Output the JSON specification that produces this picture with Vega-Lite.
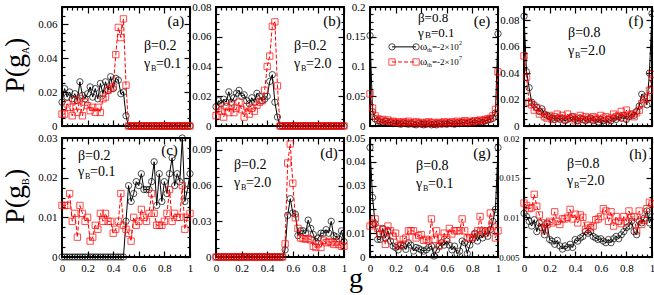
{
"$schema":"https://vega.github.io/schema/vega-lite/v6.json",
"padding":{"left":0,"top":0,"right":0,"bottom":0},
"background":"white",
"config":{
 "view":{"stroke":"black","strokeWidth":2},
 "axis":{"domain":false,"grid":false,"labelFont":"Liberation Serif","labelFontSize":11,"labelColor":"black","tickColor":"black","tickWidth":1.2,"labelPadding":11,"labelOverlap":false,"labelFlush":false},
 "text":{"font":"Liberation Serif","fontSize":14,"align":"left","baseline":"middle","color":"black"},
 "point":{"filled":false,"size":40,"strokeWidth":1},
 "line":{"strokeWidth":1}
},
"datasets":{
"ak":[{"g":0,"v":0.014},{"g":0.02,"v":0.022},{"g":0.04,"v":0.017},{"g":0.06,"v":0.02},{"g":0.08,"v":0.016},{"g":0.1,"v":0.019},{"g":0.12,"v":0.015},{"g":0.14,"v":0.026},{"g":0.16,"v":0.018},{"g":0.18,"v":0.016},{"g":0.2,"v":0.019},{"g":0.22,"v":0.023},{"g":0.24,"v":0.017},{"g":0.26,"v":0.022},{"g":0.28,"v":0.016},{"g":0.3,"v":0.025},{"g":0.32,"v":0.019},{"g":0.34,"v":0.026},{"g":0.36,"v":0.021},{"g":0.38,"v":0.029},{"g":0.4,"v":0.022},{"g":0.42,"v":0.028},{"g":0.44,"v":0.027},{"g":0.46,"v":0.019},{"g":0.48,"v":0.02},{"g":0.5,"v":0.006},{"g":0.52,"v":0},{"g":0.54,"v":0},{"g":0.56,"v":0},{"g":0.58,"v":0},{"g":0.6,"v":0},{"g":0.62,"v":0},{"g":0.64,"v":0},{"g":0.66,"v":0},{"g":0.68,"v":0},{"g":0.7,"v":0},{"g":0.72,"v":0},{"g":0.74,"v":0},{"g":0.76,"v":0},{"g":0.78,"v":0},{"g":0.8,"v":0},{"g":0.82,"v":0},{"g":0.84,"v":0},{"g":0.86,"v":0},{"g":0.88,"v":0},{"g":0.9,"v":0},{"g":0.92,"v":0},{"g":0.94,"v":0},{"g":0.96,"v":0},{"g":0.98,"v":0},{"g":1,"v":0}],
"ar":[{"g":0,"v":0.007},{"g":0.02,"v":0.007},{"g":0.04,"v":0.013},{"g":0.06,"v":0.011},{"g":0.08,"v":0.006},{"g":0.1,"v":0.015},{"g":0.12,"v":0.008},{"g":0.14,"v":0.016},{"g":0.16,"v":0.006},{"g":0.18,"v":0.014},{"g":0.2,"v":0.012},{"g":0.22,"v":0.009},{"g":0.24,"v":0.011},{"g":0.26,"v":0.008},{"g":0.28,"v":0.011},{"g":0.3,"v":0.008},{"g":0.32,"v":0.016},{"g":0.34,"v":0.017},{"g":0.36,"v":0.021},{"g":0.38,"v":0.022},{"g":0.4,"v":0.023},{"g":0.42,"v":0.042},{"g":0.44,"v":0.058},{"g":0.46,"v":0.052},{"g":0.48,"v":0.063},{"g":0.5,"v":0.024},{"g":0.52,"v":0},{"g":0.54,"v":0},{"g":0.56,"v":0},{"g":0.58,"v":0},{"g":0.6,"v":0},{"g":0.62,"v":0},{"g":0.64,"v":0},{"g":0.66,"v":0},{"g":0.68,"v":0},{"g":0.7,"v":0},{"g":0.72,"v":0},{"g":0.74,"v":0},{"g":0.76,"v":0},{"g":0.78,"v":0},{"g":0.8,"v":0},{"g":0.82,"v":0},{"g":0.84,"v":0},{"g":0.86,"v":0},{"g":0.88,"v":0},{"g":0.9,"v":0},{"g":0.92,"v":0},{"g":0.94,"v":0},{"g":0.96,"v":0},{"g":0.98,"v":0},{"g":1,"v":0}],
"bk":[{"g":0,"v":0.013},{"g":0.02,"v":0.017},{"g":0.04,"v":0.015},{"g":0.06,"v":0.018},{"g":0.08,"v":0.016},{"g":0.1,"v":0.023},{"g":0.12,"v":0.016},{"g":0.14,"v":0.019},{"g":0.16,"v":0.022},{"g":0.18,"v":0.024},{"g":0.2,"v":0.02},{"g":0.22,"v":0.021},{"g":0.24,"v":0.017},{"g":0.26,"v":0.015},{"g":0.28,"v":0.019},{"g":0.3,"v":0.016},{"g":0.32,"v":0.022},{"g":0.34,"v":0.02},{"g":0.36,"v":0.017},{"g":0.38,"v":0.018},{"g":0.4,"v":0.02},{"g":0.42,"v":0.03},{"g":0.44,"v":0.0345},{"g":0.46,"v":0.016},{"g":0.48,"v":0.006},{"g":0.5,"v":0},{"g":0.52,"v":0},{"g":0.54,"v":0},{"g":0.56,"v":0},{"g":0.58,"v":0},{"g":0.6,"v":0},{"g":0.62,"v":0},{"g":0.64,"v":0},{"g":0.66,"v":0},{"g":0.68,"v":0},{"g":0.7,"v":0},{"g":0.72,"v":0},{"g":0.74,"v":0},{"g":0.76,"v":0},{"g":0.78,"v":0},{"g":0.8,"v":0},{"g":0.82,"v":0},{"g":0.84,"v":0},{"g":0.86,"v":0},{"g":0.88,"v":0},{"g":0.9,"v":0},{"g":0.92,"v":0},{"g":0.94,"v":0},{"g":0.96,"v":0},{"g":0.98,"v":0},{"g":1,"v":0}],
"br":[{"g":0,"v":0.007},{"g":0.02,"v":0.012},{"g":0.04,"v":0.01},{"g":0.06,"v":0.006},{"g":0.08,"v":0.013},{"g":0.1,"v":0.009},{"g":0.12,"v":0.014},{"g":0.14,"v":0.009},{"g":0.16,"v":0.012},{"g":0.18,"v":0.016},{"g":0.2,"v":0.011},{"g":0.22,"v":0.006},{"g":0.24,"v":0.013},{"g":0.26,"v":0.008},{"g":0.28,"v":0.012},{"g":0.3,"v":0.01},{"g":0.32,"v":0.014},{"g":0.34,"v":0.016},{"g":0.36,"v":0.017},{"g":0.38,"v":0.024},{"g":0.4,"v":0.04},{"g":0.42,"v":0.047},{"g":0.44,"v":0.067},{"g":0.46,"v":0.07},{"g":0.48,"v":0.027},{"g":0.5,"v":0},{"g":0.52,"v":0},{"g":0.54,"v":0},{"g":0.56,"v":0},{"g":0.58,"v":0},{"g":0.6,"v":0},{"g":0.62,"v":0},{"g":0.64,"v":0},{"g":0.66,"v":0},{"g":0.68,"v":0},{"g":0.7,"v":0},{"g":0.72,"v":0},{"g":0.74,"v":0},{"g":0.76,"v":0},{"g":0.78,"v":0},{"g":0.8,"v":0},{"g":0.82,"v":0},{"g":0.84,"v":0},{"g":0.86,"v":0},{"g":0.88,"v":0},{"g":0.9,"v":0},{"g":0.92,"v":0},{"g":0.94,"v":0},{"g":0.96,"v":0},{"g":0.98,"v":0},{"g":1,"v":0}],
"ck":[{"g":0,"v":0},{"g":0.02,"v":0},{"g":0.04,"v":0},{"g":0.06,"v":0},{"g":0.08,"v":0},{"g":0.1,"v":0},{"g":0.12,"v":0},{"g":0.14,"v":0},{"g":0.16,"v":0},{"g":0.18,"v":0},{"g":0.2,"v":0},{"g":0.22,"v":0},{"g":0.24,"v":0},{"g":0.26,"v":0},{"g":0.28,"v":0},{"g":0.3,"v":0},{"g":0.32,"v":0},{"g":0.34,"v":0},{"g":0.36,"v":0},{"g":0.38,"v":0},{"g":0.4,"v":0},{"g":0.42,"v":0},{"g":0.44,"v":0},{"g":0.46,"v":0},{"g":0.48,"v":0},{"g":0.5,"v":0.009},{"g":0.52,"v":0.018},{"g":0.54,"v":0.014},{"g":0.56,"v":0.016},{"g":0.58,"v":0.019},{"g":0.6,"v":0.018},{"g":0.62,"v":0.021},{"g":0.64,"v":0.017},{"g":0.66,"v":0.017},{"g":0.68,"v":0.017},{"g":0.7,"v":0.019},{"g":0.72,"v":0.024},{"g":0.74,"v":0.013},{"g":0.76,"v":0.021},{"g":0.78,"v":0.014},{"g":0.8,"v":0.019},{"g":0.82,"v":0.016},{"g":0.84,"v":0.021},{"g":0.86,"v":0.025},{"g":0.88,"v":0.018},{"g":0.9,"v":0.021},{"g":0.92,"v":0.019},{"g":0.94,"v":0.03},{"g":0.96,"v":0.014},{"g":0.98,"v":0.017},{"g":1,"v":0.021}],
"cr":[{"g":0,"v":0.013},{"g":0.02,"v":0.013},{"g":0.04,"v":0.013},{"g":0.06,"v":0.016},{"g":0.08,"v":0.009},{"g":0.1,"v":0.011},{"g":0.12,"v":0.005},{"g":0.14,"v":0.013},{"g":0.16,"v":0.011},{"g":0.18,"v":0.009},{"g":0.2,"v":0.01},{"g":0.22,"v":0.004},{"g":0.24,"v":0.005},{"g":0.26,"v":0.008},{"g":0.28,"v":0.007},{"g":0.3,"v":0.011},{"g":0.32,"v":0.009},{"g":0.34,"v":0.011},{"g":0.36,"v":0.009},{"g":0.38,"v":0.009},{"g":0.4,"v":0.006},{"g":0.42,"v":0.007},{"g":0.44,"v":0.009},{"g":0.46,"v":0.016},{"g":0.48,"v":0.008},{"g":0.5,"v":0.007},{"g":0.52,"v":0.006},{"g":0.54,"v":0.004},{"g":0.56,"v":0.01},{"g":0.58,"v":0.008},{"g":0.6,"v":0.009},{"g":0.62,"v":0.012},{"g":0.64,"v":0.01},{"g":0.66,"v":0.009},{"g":0.68,"v":0.011},{"g":0.7,"v":0.016},{"g":0.72,"v":0.011},{"g":0.74,"v":0.008},{"g":0.76,"v":0.008},{"g":0.78,"v":0.008},{"g":0.8,"v":0.009},{"g":0.82,"v":0.011},{"g":0.84,"v":0.017},{"g":0.86,"v":0.009},{"g":0.88,"v":0.011},{"g":0.9,"v":0.01},{"g":0.92,"v":0.01},{"g":0.94,"v":0.018},{"g":0.96,"v":0.007},{"g":0.98,"v":0.01},{"g":1,"v":0.011}],
"dk":[{"g":0,"v":0},{"g":0.02,"v":0},{"g":0.04,"v":0},{"g":0.06,"v":0},{"g":0.08,"v":0},{"g":0.1,"v":0},{"g":0.12,"v":0},{"g":0.14,"v":0},{"g":0.16,"v":0},{"g":0.18,"v":0},{"g":0.2,"v":0},{"g":0.22,"v":0},{"g":0.24,"v":0},{"g":0.26,"v":0},{"g":0.28,"v":0},{"g":0.3,"v":0},{"g":0.32,"v":0},{"g":0.34,"v":0},{"g":0.36,"v":0},{"g":0.38,"v":0},{"g":0.4,"v":0},{"g":0.42,"v":0},{"g":0.44,"v":0},{"g":0.46,"v":0},{"g":0.48,"v":0},{"g":0.5,"v":0},{"g":0.52,"v":0},{"g":0.54,"v":0.006},{"g":0.56,"v":0.035},{"g":0.58,"v":0.049},{"g":0.6,"v":0.037},{"g":0.62,"v":0.036},{"g":0.64,"v":0.018},{"g":0.66,"v":0.022},{"g":0.68,"v":0.022},{"g":0.7,"v":0.02},{"g":0.72,"v":0.031},{"g":0.74,"v":0.024},{"g":0.76,"v":0.019},{"g":0.78,"v":0.013},{"g":0.8,"v":0.016},{"g":0.82,"v":0.02},{"g":0.84,"v":0.02},{"g":0.86,"v":0.023},{"g":0.88,"v":0.02},{"g":0.9,"v":0.03},{"g":0.92,"v":0.018},{"g":0.94,"v":0.017},{"g":0.96,"v":0.015},{"g":0.98,"v":0.022},{"g":1,"v":0.013}],
"dr":[{"g":0,"v":0},{"g":0.02,"v":0},{"g":0.04,"v":0},{"g":0.06,"v":0},{"g":0.08,"v":0},{"g":0.1,"v":0},{"g":0.12,"v":0},{"g":0.14,"v":0},{"g":0.16,"v":0},{"g":0.18,"v":0},{"g":0.2,"v":0},{"g":0.22,"v":0},{"g":0.24,"v":0},{"g":0.26,"v":0},{"g":0.28,"v":0},{"g":0.3,"v":0},{"g":0.32,"v":0},{"g":0.34,"v":0},{"g":0.36,"v":0},{"g":0.38,"v":0},{"g":0.4,"v":0},{"g":0.42,"v":0},{"g":0.44,"v":0},{"g":0.46,"v":0},{"g":0.48,"v":0},{"g":0.5,"v":0},{"g":0.52,"v":0},{"g":0.54,"v":0.011},{"g":0.56,"v":0.079},{"g":0.58,"v":0.095},{"g":0.6,"v":0.062},{"g":0.62,"v":0.033},{"g":0.64,"v":0.024},{"g":0.66,"v":0.016},{"g":0.68,"v":0.0155},{"g":0.7,"v":0.015},{"g":0.72,"v":0.0155},{"g":0.74,"v":0.0145},{"g":0.76,"v":0.009},{"g":0.78,"v":0.008},{"g":0.8,"v":0.011},{"g":0.82,"v":0.008},{"g":0.84,"v":0.014},{"g":0.86,"v":0.012},{"g":0.88,"v":0.013},{"g":0.9,"v":0.012},{"g":0.92,"v":0.0105},{"g":0.94,"v":0.0125},{"g":0.96,"v":0.0105},{"g":0.98,"v":0.009},{"g":1,"v":0.009}],
"ek":[{"g":0,"v":0.152},{"g":0.02,"v":0.024},{"g":0.04,"v":0.012},{"g":0.06,"v":0.009},{"g":0.08,"v":0.007},{"g":0.1,"v":0.006},{"g":0.12,"v":0.008},{"g":0.14,"v":0.005},{"g":0.16,"v":0.006},{"g":0.18,"v":0.004},{"g":0.2,"v":0.005},{"g":0.22,"v":0.004},{"g":0.24,"v":0.003},{"g":0.26,"v":0.005},{"g":0.28,"v":0.004},{"g":0.3,"v":0.003},{"g":0.32,"v":0.004},{"g":0.34,"v":0.003},{"g":0.36,"v":0.002},{"g":0.38,"v":0.004},{"g":0.4,"v":0.003},{"g":0.42,"v":0.002},{"g":0.44,"v":0.003},{"g":0.46,"v":0.004},{"g":0.48,"v":0.002},{"g":0.5,"v":0.003},{"g":0.52,"v":0.002},{"g":0.54,"v":0.004},{"g":0.56,"v":0.003},{"g":0.58,"v":0.004},{"g":0.6,"v":0.003},{"g":0.62,"v":0.005},{"g":0.64,"v":0.004},{"g":0.66,"v":0.003},{"g":0.68,"v":0.005},{"g":0.7,"v":0.004},{"g":0.72,"v":0.006},{"g":0.74,"v":0.005},{"g":0.76,"v":0.004},{"g":0.78,"v":0.006},{"g":0.8,"v":0.007},{"g":0.82,"v":0.005},{"g":0.84,"v":0.008},{"g":0.86,"v":0.007},{"g":0.88,"v":0.006},{"g":0.9,"v":0.009},{"g":0.92,"v":0.01},{"g":0.94,"v":0.011},{"g":0.96,"v":0.013},{"g":0.98,"v":0.022},{"g":1,"v":0.155}],
"er":[{"g":0,"v":0.054},{"g":0.02,"v":0.03},{"g":0.04,"v":0.017},{"g":0.06,"v":0.012},{"g":0.08,"v":0.01},{"g":0.1,"v":0.011},{"g":0.12,"v":0.008},{"g":0.14,"v":0.01},{"g":0.16,"v":0.007},{"g":0.18,"v":0.008},{"g":0.2,"v":0.006},{"g":0.22,"v":0.007},{"g":0.24,"v":0.005},{"g":0.26,"v":0.007},{"g":0.28,"v":0.006},{"g":0.3,"v":0.008},{"g":0.32,"v":0.005},{"g":0.34,"v":0.006},{"g":0.36,"v":0.007},{"g":0.38,"v":0.005},{"g":0.4,"v":0.006},{"g":0.42,"v":0.004},{"g":0.44,"v":0.006},{"g":0.46,"v":0.007},{"g":0.48,"v":0.005},{"g":0.5,"v":0.006},{"g":0.52,"v":0.004},{"g":0.54,"v":0.006},{"g":0.56,"v":0.005},{"g":0.58,"v":0.007},{"g":0.6,"v":0.006},{"g":0.62,"v":0.005},{"g":0.64,"v":0.007},{"g":0.66,"v":0.006},{"g":0.68,"v":0.008},{"g":0.7,"v":0.006},{"g":0.72,"v":0.007},{"g":0.74,"v":0.009},{"g":0.76,"v":0.006},{"g":0.78,"v":0.008},{"g":0.8,"v":0.007},{"g":0.82,"v":0.009},{"g":0.84,"v":0.008},{"g":0.86,"v":0.01},{"g":0.88,"v":0.009},{"g":0.9,"v":0.011},{"g":0.92,"v":0.012},{"g":0.94,"v":0.013},{"g":0.96,"v":0.017},{"g":0.98,"v":0.028},{"g":1,"v":0.091}],
"fk":[{"g":0,"v":0.083},{"g":0.02,"v":0.041},{"g":0.04,"v":0.029},{"g":0.06,"v":0.018},{"g":0.08,"v":0.016},{"g":0.1,"v":0.014},{"g":0.12,"v":0.011},{"g":0.14,"v":0.013},{"g":0.16,"v":0.009},{"g":0.18,"v":0.008},{"g":0.2,"v":0.007},{"g":0.22,"v":0.006},{"g":0.24,"v":0.005},{"g":0.26,"v":0.006},{"g":0.28,"v":0.005},{"g":0.3,"v":0.006},{"g":0.32,"v":0.004},{"g":0.34,"v":0.005},{"g":0.36,"v":0.006},{"g":0.38,"v":0.007},{"g":0.4,"v":0.005},{"g":0.42,"v":0.004},{"g":0.44,"v":0.006},{"g":0.46,"v":0.005},{"g":0.48,"v":0.004},{"g":0.5,"v":0.005},{"g":0.52,"v":0.006},{"g":0.54,"v":0.004},{"g":0.56,"v":0.005},{"g":0.58,"v":0.003},{"g":0.6,"v":0.005},{"g":0.62,"v":0.004},{"g":0.64,"v":0.002},{"g":0.66,"v":0.005},{"g":0.68,"v":0.004},{"g":0.7,"v":0.006},{"g":0.72,"v":0.005},{"g":0.74,"v":0.007},{"g":0.76,"v":0.006},{"g":0.78,"v":0.008},{"g":0.8,"v":0.005},{"g":0.82,"v":0.007},{"g":0.84,"v":0.009},{"g":0.86,"v":0.008},{"g":0.88,"v":0.011},{"g":0.9,"v":0.015},{"g":0.92,"v":0.024},{"g":0.94,"v":0.022},{"g":0.96,"v":0.016},{"g":0.98,"v":0.04},{"g":1,"v":0.085}],
"fr":[{"g":0,"v":0.053},{"g":0.02,"v":0.037},{"g":0.04,"v":0.018},{"g":0.06,"v":0.016},{"g":0.08,"v":0.012},{"g":0.1,"v":0.014},{"g":0.12,"v":0.009},{"g":0.14,"v":0.011},{"g":0.16,"v":0.007},{"g":0.18,"v":0.006},{"g":0.2,"v":0.008},{"g":0.22,"v":0.005},{"g":0.24,"v":0.007},{"g":0.26,"v":0.009},{"g":0.28,"v":0.006},{"g":0.3,"v":0.008},{"g":0.32,"v":0.005},{"g":0.34,"v":0.009},{"g":0.36,"v":0.006},{"g":0.38,"v":0.007},{"g":0.4,"v":0.004},{"g":0.42,"v":0.006},{"g":0.44,"v":0.008},{"g":0.46,"v":0.005},{"g":0.48,"v":0.007},{"g":0.5,"v":0.006},{"g":0.52,"v":0.005},{"g":0.54,"v":0.007},{"g":0.56,"v":0.006},{"g":0.58,"v":0.005},{"g":0.6,"v":0.008},{"g":0.62,"v":0.006},{"g":0.64,"v":0.007},{"g":0.66,"v":0.005},{"g":0.68,"v":0.006},{"g":0.7,"v":0.009},{"g":0.72,"v":0.007},{"g":0.74,"v":0.008},{"g":0.76,"v":0.011},{"g":0.78,"v":0.006},{"g":0.8,"v":0.012},{"g":0.82,"v":0.008},{"g":0.84,"v":0.009},{"g":0.86,"v":0.007},{"g":0.88,"v":0.01},{"g":0.9,"v":0.012},{"g":0.92,"v":0.017},{"g":0.94,"v":0.02},{"g":0.96,"v":0.021},{"g":0.98,"v":0.027},{"g":1,"v":0.039}],
"gk":[{"g":0,"v":0.046},{"g":0.02,"v":0.025},{"g":0.04,"v":0.014},{"g":0.06,"v":0.0074},{"g":0.08,"v":0.0074},{"g":0.1,"v":0.012},{"g":0.12,"v":0.008},{"g":0.14,"v":0.011},{"g":0.16,"v":0.0067},{"g":0.18,"v":0.0046},{"g":0.2,"v":0.004},{"g":0.22,"v":0.003},{"g":0.24,"v":0.005},{"g":0.26,"v":0.0046},{"g":0.28,"v":0.0032},{"g":0.3,"v":0.006},{"g":0.32,"v":0.005},{"g":0.34,"v":0.0025},{"g":0.36,"v":0.004},{"g":0.38,"v":0.0036},{"g":0.4,"v":0.003},{"g":0.42,"v":0.0025},{"g":0.44,"v":0.003},{"g":0.46,"v":0.004},{"g":0.48,"v":0.0046},{"g":0.5,"v":0.0004},{"g":0.52,"v":0.003},{"g":0.54,"v":0.0046},{"g":0.56,"v":0.006},{"g":0.58,"v":0.005},{"g":0.6,"v":0.0067},{"g":0.62,"v":0.005},{"g":0.64,"v":0.003},{"g":0.66,"v":0.0046},{"g":0.68,"v":0.0014},{"g":0.7,"v":0.0025},{"g":0.72,"v":0.0067},{"g":0.74,"v":0.006},{"g":0.76,"v":0.0014},{"g":0.78,"v":0.005},{"g":0.8,"v":0.0074},{"g":0.82,"v":0.01},{"g":0.84,"v":0.0067},{"g":0.86,"v":0.0094},{"g":0.88,"v":0.008},{"g":0.9,"v":0.011},{"g":0.92,"v":0.0087},{"g":0.94,"v":0.0115},{"g":0.96,"v":0.015},{"g":0.98,"v":0.02},{"g":1,"v":0.046}],
"gr":[{"g":0,"v":0.013},{"g":0.02,"v":0.0143},{"g":0.04,"v":0.016},{"g":0.06,"v":0.012},{"g":0.08,"v":0.0094},{"g":0.1,"v":0.0115},{"g":0.12,"v":0.0053},{"g":0.14,"v":0.013},{"g":0.16,"v":0.011},{"g":0.18,"v":0.0088},{"g":0.2,"v":0.01},{"g":0.22,"v":0.0046},{"g":0.24,"v":0.0053},{"g":0.26,"v":0.0074},{"g":0.28,"v":0.008},{"g":0.3,"v":0.011},{"g":0.32,"v":0.011},{"g":0.34,"v":0.011},{"g":0.36,"v":0.008},{"g":0.38,"v":0.009},{"g":0.4,"v":0.0094},{"g":0.42,"v":0.007},{"g":0.44,"v":0.0074},{"g":0.46,"v":0.0067},{"g":0.48,"v":0.016},{"g":0.5,"v":0.0074},{"g":0.52,"v":0.011},{"g":0.54,"v":0.0046},{"g":0.56,"v":0.008},{"g":0.58,"v":0.01},{"g":0.6,"v":0.008},{"g":0.62,"v":0.012},{"g":0.64,"v":0.0097},{"g":0.66,"v":0.011},{"g":0.68,"v":0.011},{"g":0.7,"v":0.011},{"g":0.72,"v":0.016},{"g":0.74,"v":0.011},{"g":0.76,"v":0.008},{"g":0.78,"v":0.008},{"g":0.8,"v":0.0083},{"g":0.82,"v":0.0094},{"g":0.84,"v":0.011},{"g":0.86,"v":0.017},{"g":0.88,"v":0.011},{"g":0.9,"v":0.01},{"g":0.92,"v":0.011},{"g":0.94,"v":0.0185},{"g":0.96,"v":0.013},{"g":0.98,"v":0.008},{"g":1,"v":0.011}],
"hk":[{"g":0,"v":0.0105},{"g":0.02,"v":0.0101},{"g":0.04,"v":0.0095},{"g":0.06,"v":0.0089},{"g":0.08,"v":0.0097},{"g":0.1,"v":0.0082},{"g":0.12,"v":0.0093},{"g":0.14,"v":0.0087},{"g":0.16,"v":0.0078},{"g":0.18,"v":0.0093},{"g":0.2,"v":0.0072},{"g":0.22,"v":0.007},{"g":0.24,"v":0.0066},{"g":0.26,"v":0.0071},{"g":0.28,"v":0.0064},{"g":0.3,"v":0.006},{"g":0.32,"v":0.0064},{"g":0.34,"v":0.0062},{"g":0.36,"v":0.0066},{"g":0.38,"v":0.0062},{"g":0.4,"v":0.0072},{"g":0.42,"v":0.007},{"g":0.44,"v":0.0074},{"g":0.46,"v":0.0076},{"g":0.48,"v":0.0082},{"g":0.5,"v":0.008},{"g":0.52,"v":0.0082},{"g":0.54,"v":0.0076},{"g":0.56,"v":0.0074},{"g":0.58,"v":0.0072},{"g":0.6,"v":0.0073},{"g":0.62,"v":0.007},{"g":0.64,"v":0.0068},{"g":0.66,"v":0.0072},{"g":0.68,"v":0.0068},{"g":0.7,"v":0.0073},{"g":0.72,"v":0.0076},{"g":0.74,"v":0.0073},{"g":0.76,"v":0.0078},{"g":0.78,"v":0.0082},{"g":0.8,"v":0.0087},{"g":0.82,"v":0.0089},{"g":0.84,"v":0.0095},{"g":0.86,"v":0.0082},{"g":0.88,"v":0.0078},{"g":0.9,"v":0.0095},{"g":0.92,"v":0.0093},{"g":0.94,"v":0.0099},{"g":0.96,"v":0.0108},{"g":0.98,"v":0.0093},{"g":1,"v":0.0101}],
"hr":[{"g":0,"v":0.0118},{"g":0.02,"v":0.0115},{"g":0.04,"v":0.0111},{"g":0.06,"v":0.0112},{"g":0.08,"v":0.0129},{"g":0.1,"v":0.0114},{"g":0.12,"v":0.0103},{"g":0.14,"v":0.0093},{"g":0.16,"v":0.0083},{"g":0.18,"v":0.0091},{"g":0.2,"v":0.0095},{"g":0.22,"v":0.0093},{"g":0.24,"v":0.0107},{"g":0.26,"v":0.0095},{"g":0.28,"v":0.0091},{"g":0.3,"v":0.0098},{"g":0.32,"v":0.0098},{"g":0.34,"v":0.01},{"g":0.36,"v":0.011},{"g":0.38,"v":0.0098},{"g":0.4,"v":0.0104},{"g":0.42,"v":0.0093},{"g":0.44,"v":0.0103},{"g":0.46,"v":0.01},{"g":0.48,"v":0.0085},{"g":0.5,"v":0.009},{"g":0.52,"v":0.0087},{"g":0.54,"v":0.0089},{"g":0.56,"v":0.0097},{"g":0.58,"v":0.0098},{"g":0.6,"v":0.0101},{"g":0.62,"v":0.0111},{"g":0.64,"v":0.0108},{"g":0.66,"v":0.0095},{"g":0.68,"v":0.0107},{"g":0.7,"v":0.0089},{"g":0.72,"v":0.0101},{"g":0.74,"v":0.0095},{"g":0.76,"v":0.0092},{"g":0.78,"v":0.0101},{"g":0.8,"v":0.0095},{"g":0.82,"v":0.0108},{"g":0.84,"v":0.01},{"g":0.86,"v":0.0101},{"g":0.88,"v":0.0083},{"g":0.9,"v":0.0108},{"g":0.92,"v":0.0091},{"g":0.94,"v":0.0096},{"g":0.96,"v":0.0111},{"g":0.98,"v":0.0119},{"g":1,"v":0.0117}]
},
"columns":4,
"spacing":{"row":12,"column":26},
"bounds":"flush",
"concat":[
{"width":128,"height":119,"resolve":{"axis":{"x":"independent","y":"independent"}},"layer":[
 {"data":{"name":"ak"},"mark":{"type":"line","color":"black"},"encoding":{
  "x":{"field":"g","type":"quantitative","scale":{"domain":[0,1],"nice":false},"axis":{"orient":"bottom","title":null,"labels":false,"values":[0,0.04,0.08,0.12,0.16,0.2,0.24,0.28,0.32,0.36,0.4,0.44,0.48,0.52,0.56,0.6,0.64,0.68,0.72,0.76,0.8,0.84,0.88,0.92,0.96,1],"tickSize":{"condition":{"test":"abs(datum.value*5-round(datum.value*5))<0.001","value":-6},"value":-3}}},
  "y":{"field":"v","type":"quantitative","scale":{"domain":[0,0.07],"nice":false,"zero":false},"axis":{"orient":"left","title":null,"values":[0,0.005,0.01,0.015,0.02,0.025,0.03,0.035,0.04,0.045,0.05,0.055,0.06,0.065,0.07],"labelExpr":"abs(datum.value/0.02-round(datum.value/0.02))<0.001 ? format(datum.value,'~g') : ''","tickSize":{"condition":{"test":"abs(datum.value/0.02-round(datum.value/0.02))<0.001","value":-6},"value":-3}}}}},
 {"data":{"name":"ak"},"mark":{"type":"point","shape":"circle","color":"black"},"encoding":{
  "x":{"field":"g","type":"quantitative","axis":{"orient":"top","title":null,"labels":false,"values":[0,0.04,0.08,0.12,0.16,0.2,0.24,0.28,0.32,0.36,0.4,0.44,0.48,0.52,0.56,0.6,0.64,0.68,0.72,0.76,0.8,0.84,0.88,0.92,0.96,1],"tickSize":{"condition":{"test":"abs(datum.value*5-round(datum.value*5))<0.001","value":-6},"value":-3}}},
  "y":{"field":"v","type":"quantitative","axis":{"orient":"right","title":null,"labels":false,"values":[0,0.005,0.01,0.015,0.02,0.025,0.03,0.035,0.04,0.045,0.05,0.055,0.06,0.065,0.07],"tickSize":{"condition":{"test":"abs(datum.value/0.02-round(datum.value/0.02))<0.001","value":-6},"value":-3}}}}},
 {"data":{"name":"ar"},"mark":{"type":"line","color":"red","strokeDash":[4,2]},"encoding":{"x":{"field":"g","type":"quantitative","axis":null},"y":{"field":"v","type":"quantitative","axis":null}}},
 {"data":{"name":"ar"},"mark":{"type":"point","shape":"square","color":"red"},"encoding":{"x":{"field":"g","type":"quantitative","axis":null},"y":{"field":"v","type":"quantitative","axis":null}}},
 {"data":{"values":[{}]},"mark":{"type":"text","text":"(a)","fontSize":15,"align":"center"},"encoding":{"x":{"datum":0.89,"type":"quantitative","axis":null},"y":{"datum":0.0618,"type":"quantitative","axis":null}}},
 {"data":{"values":[{}]},"mark":{"type":"text","text":"β=0.2"},"encoding":{"x":{"datum":0.64,"type":"quantitative","axis":null},"y":{"datum":0.047,"type":"quantitative","axis":null}}},
 {"data":{"values":[{}]},"mark":{"type":"text","text":"γ"},"encoding":{"x":{"datum":0.64,"type":"quantitative","axis":null},"y":{"datum":0.0365,"type":"quantitative","axis":null}}},
 {"data":{"values":[{}]},"mark":{"type":"text","text":"B","fontSize":8,"dx":7,"dy":5},"encoding":{"x":{"datum":0.64,"type":"quantitative","axis":null},"y":{"datum":0.0365,"type":"quantitative","axis":null}}},
 {"data":{"values":[{}]},"mark":{"type":"text","text":"=0.1","dx":12},"encoding":{"x":{"datum":0.64,"type":"quantitative","axis":null},"y":{"datum":0.0365,"type":"quantitative","axis":null}}},
 {"data":{"values":[{}]},"mark":{"type":"text","text":"P(g","fontSize":28,"angle":270,"align":"right","baseline":"alphabetic"},"encoding":{"x":{"datum":-0.297,"type":"quantitative","axis":null},"y":{"datum":0.0424,"type":"quantitative","axis":null}}},
 {"data":{"values":[{}]},"mark":{"type":"text","text":"A","fontSize":10,"angle":270,"align":"left","baseline":"alphabetic","dy":5},"encoding":{"x":{"datum":-0.297,"type":"quantitative","axis":null},"y":{"datum":0.0424,"type":"quantitative","axis":null}}},
 {"data":{"values":[{}]},"mark":{"type":"text","text":")","fontSize":28,"angle":270,"align":"left","baseline":"alphabetic","dx":7},"encoding":{"x":{"datum":-0.297,"type":"quantitative","axis":null},"y":{"datum":0.0424,"type":"quantitative","axis":null}}}
]},
{"width":128,"height":119,"resolve":{"axis":{"x":"independent","y":"independent"}},"layer":[
 {"data":{"name":"bk"},"mark":{"type":"line","color":"black"},"encoding":{
  "x":{"field":"g","type":"quantitative","scale":{"domain":[0,1],"nice":false},"axis":{"orient":"bottom","title":null,"labels":false,"values":[0,0.04,0.08,0.12,0.16,0.2,0.24,0.28,0.32,0.36,0.4,0.44,0.48,0.52,0.56,0.6,0.64,0.68,0.72,0.76,0.8,0.84,0.88,0.92,0.96,1],"tickSize":{"condition":{"test":"abs(datum.value*5-round(datum.value*5))<0.001","value":-6},"value":-3}}},
  "y":{"field":"v","type":"quantitative","scale":{"domain":[0,0.08],"nice":false,"zero":false},"axis":{"orient":"left","title":null,"values":[0,0.005,0.01,0.015,0.02,0.025,0.03,0.035,0.04,0.045,0.05,0.055,0.06,0.065,0.07,0.075,0.08],"labelExpr":"abs(datum.value/0.02-round(datum.value/0.02))<0.001 ? format(datum.value,'~g') : ''","tickSize":{"condition":{"test":"abs(datum.value/0.02-round(datum.value/0.02))<0.001","value":-6},"value":-3}}}}},
 {"data":{"name":"bk"},"mark":{"type":"point","shape":"circle","color":"black"},"encoding":{
  "x":{"field":"g","type":"quantitative","axis":{"orient":"top","title":null,"labels":false,"values":[0,0.04,0.08,0.12,0.16,0.2,0.24,0.28,0.32,0.36,0.4,0.44,0.48,0.52,0.56,0.6,0.64,0.68,0.72,0.76,0.8,0.84,0.88,0.92,0.96,1],"tickSize":{"condition":{"test":"abs(datum.value*5-round(datum.value*5))<0.001","value":-6},"value":-3}}},
  "y":{"field":"v","type":"quantitative","axis":{"orient":"right","title":null,"labels":false,"values":[0,0.005,0.01,0.015,0.02,0.025,0.03,0.035,0.04,0.045,0.05,0.055,0.06,0.065,0.07,0.075,0.08],"tickSize":{"condition":{"test":"abs(datum.value/0.02-round(datum.value/0.02))<0.001","value":-6},"value":-3}}}}},
 {"data":{"name":"br"},"mark":{"type":"line","color":"red","strokeDash":[4,2]},"encoding":{"x":{"field":"g","type":"quantitative","axis":null},"y":{"field":"v","type":"quantitative","axis":null}}},
 {"data":{"name":"br"},"mark":{"type":"point","shape":"square","color":"red"},"encoding":{"x":{"field":"g","type":"quantitative","axis":null},"y":{"field":"v","type":"quantitative","axis":null}}},
 {"data":{"values":[{}]},"mark":{"type":"text","text":"(b)","fontSize":15,"align":"center"},"encoding":{"x":{"datum":0.906,"type":"quantitative","axis":null},"y":{"datum":0.0706,"type":"quantitative","axis":null}}},
 {"data":{"values":[{}]},"mark":{"type":"text","text":"β=0.2"},"encoding":{"x":{"datum":0.61,"type":"quantitative","axis":null},"y":{"datum":0.0538,"type":"quantitative","axis":null}}},
 {"data":{"values":[{}]},"mark":{"type":"text","text":"γ"},"encoding":{"x":{"datum":0.61,"type":"quantitative","axis":null},"y":{"datum":0.0417,"type":"quantitative","axis":null}}},
 {"data":{"values":[{}]},"mark":{"type":"text","text":"B","fontSize":8,"dx":7,"dy":5},"encoding":{"x":{"datum":0.61,"type":"quantitative","axis":null},"y":{"datum":0.0417,"type":"quantitative","axis":null}}},
 {"data":{"values":[{}]},"mark":{"type":"text","text":"=2.0","dx":12},"encoding":{"x":{"datum":0.61,"type":"quantitative","axis":null},"y":{"datum":0.0417,"type":"quantitative","axis":null}}}
]},
{"width":128,"height":119,"resolve":{"axis":{"x":"independent","y":"independent"}},"layer":[
 {"data":{"name":"ek"},"mark":{"type":"line","color":"black"},"encoding":{
  "x":{"field":"g","type":"quantitative","scale":{"domain":[0,1],"nice":false},"axis":{"orient":"bottom","title":null,"labels":false,"values":[0,0.04,0.08,0.12,0.16,0.2,0.24,0.28,0.32,0.36,0.4,0.44,0.48,0.52,0.56,0.6,0.64,0.68,0.72,0.76,0.8,0.84,0.88,0.92,0.96,1],"tickSize":{"condition":{"test":"abs(datum.value*5-round(datum.value*5))<0.001","value":-6},"value":-3}}},
  "y":{"field":"v","type":"quantitative","scale":{"domain":[0,0.2],"nice":false,"zero":false},"axis":{"orient":"left","title":null,"values":[0,0.0125,0.025,0.0375,0.05,0.0625,0.075,0.0875,0.1,0.1125,0.125,0.1375,0.15,0.1625,0.175,0.1875,0.2],"labelExpr":"abs(datum.value/0.05-round(datum.value/0.05))<0.001 ? format(datum.value,'~g') : ''","tickSize":{"condition":{"test":"abs(datum.value/0.05-round(datum.value/0.05))<0.001","value":-6},"value":-3}}}}},
 {"data":{"name":"ek"},"mark":{"type":"point","shape":"circle","color":"black"},"encoding":{
  "x":{"field":"g","type":"quantitative","axis":{"orient":"top","title":null,"labels":false,"values":[0,0.04,0.08,0.12,0.16,0.2,0.24,0.28,0.32,0.36,0.4,0.44,0.48,0.52,0.56,0.6,0.64,0.68,0.72,0.76,0.8,0.84,0.88,0.92,0.96,1],"tickSize":{"condition":{"test":"abs(datum.value*5-round(datum.value*5))<0.001","value":-6},"value":-3}}},
  "y":{"field":"v","type":"quantitative","axis":{"orient":"right","title":null,"labels":false,"values":[0,0.0125,0.025,0.0375,0.05,0.0625,0.075,0.0875,0.1,0.1125,0.125,0.1375,0.15,0.1625,0.175,0.1875,0.2],"tickSize":{"condition":{"test":"abs(datum.value/0.05-round(datum.value/0.05))<0.001","value":-6},"value":-3}}}}},
 {"data":{"name":"er"},"mark":{"type":"line","color":"red","strokeDash":[4,2]},"encoding":{"x":{"field":"g","type":"quantitative","axis":null},"y":{"field":"v","type":"quantitative","axis":null}}},
 {"data":{"name":"er"},"mark":{"type":"point","shape":"square","color":"red"},"encoding":{"x":{"field":"g","type":"quantitative","axis":null},"y":{"field":"v","type":"quantitative","axis":null}}},
 {"data":{"values":[{}]},"mark":{"type":"text","text":"(e)","fontSize":15,"align":"center"},"encoding":{"x":{"datum":0.875,"type":"quantitative","axis":null},"y":{"datum":0.176,"type":"quantitative","axis":null}}},
 {"data":{"values":[{}]},"mark":{"type":"text","text":"β=0.8","fontSize":13},"encoding":{"x":{"datum":0.375,"type":"quantitative","axis":null},"y":{"datum":0.182,"type":"quantitative","axis":null}}},
 {"data":{"values":[{}]},"mark":{"type":"text","text":"γ","fontSize":13},"encoding":{"x":{"datum":0.375,"type":"quantitative","axis":null},"y":{"datum":0.156,"type":"quantitative","axis":null}}},
 {"data":{"values":[{}]},"mark":{"type":"text","text":"B","fontSize":9,"dx":7,"dy":2},"encoding":{"x":{"datum":0.375,"type":"quantitative","axis":null},"y":{"datum":0.156,"type":"quantitative","axis":null}}},
 {"data":{"values":[{}]},"mark":{"type":"text","text":"=0.1","fontSize":13,"dx":13},"encoding":{"x":{"datum":0.375,"type":"quantitative","axis":null},"y":{"datum":0.156,"type":"quantitative","axis":null}}},
 {"data":{"values":[{}]},"mark":{"type":"rule","color":"black","strokeWidth":1},"encoding":{"x":{"datum":0.172,"type":"quantitative","axis":null},"x2":{"datum":0.36},"y":{"datum":0.133,"type":"quantitative","axis":null}}},
 {"data":{"values":[{}]},"mark":{"type":"point","shape":"circle","color":"black"},"encoding":{"x":{"datum":0.172,"type":"quantitative","axis":null},"y":{"datum":0.133,"type":"quantitative","axis":null}}},
 {"data":{"values":[{}]},"mark":{"type":"point","shape":"circle","color":"black"},"encoding":{"x":{"datum":0.36,"type":"quantitative","axis":null},"y":{"datum":0.133,"type":"quantitative","axis":null}}},
 {"data":{"values":[{}]},"mark":{"type":"rule","color":"red","strokeWidth":1,"strokeDash":[4,2]},"encoding":{"x":{"datum":0.172,"type":"quantitative","axis":null},"x2":{"datum":0.36},"y":{"datum":0.1076,"type":"quantitative","axis":null}}},
 {"data":{"values":[{}]},"mark":{"type":"point","shape":"square","color":"red"},"encoding":{"x":{"datum":0.172,"type":"quantitative","axis":null},"y":{"datum":0.1076,"type":"quantitative","axis":null}}},
 {"data":{"values":[{}]},"mark":{"type":"point","shape":"square","color":"red"},"encoding":{"x":{"datum":0.36,"type":"quantitative","axis":null},"y":{"datum":0.1076,"type":"quantitative","axis":null}}},
 {"data":{"values":[{}]},"mark":{"type":"text","text":"ω","fontSize":11,"dx":2},"encoding":{"x":{"datum":0.375,"type":"quantitative","axis":null},"y":{"datum":0.133,"type":"quantitative","axis":null}}},
 {"data":{"values":[{}]},"mark":{"type":"text","text":"th","fontSize":6,"dx":9,"dy":3},"encoding":{"x":{"datum":0.375,"type":"quantitative","axis":null},"y":{"datum":0.133,"type":"quantitative","axis":null}}},
 {"data":{"values":[{}]},"mark":{"type":"text","text":"=-2×10","fontSize":9,"dx":14},"encoding":{"x":{"datum":0.375,"type":"quantitative","axis":null},"y":{"datum":0.133,"type":"quantitative","axis":null}}},
 {"data":{"values":[{}]},"mark":{"type":"text","text":"2","fontSize":6,"dx":41,"dy":-4},"encoding":{"x":{"datum":0.375,"type":"quantitative","axis":null},"y":{"datum":0.133,"type":"quantitative","axis":null}}},
 {"data":{"values":[{}]},"mark":{"type":"text","text":"ω","fontSize":11,"dx":2},"encoding":{"x":{"datum":0.375,"type":"quantitative","axis":null},"y":{"datum":0.1076,"type":"quantitative","axis":null}}},
 {"data":{"values":[{}]},"mark":{"type":"text","text":"th","fontSize":6,"dx":9,"dy":3},"encoding":{"x":{"datum":0.375,"type":"quantitative","axis":null},"y":{"datum":0.1076,"type":"quantitative","axis":null}}},
 {"data":{"values":[{}]},"mark":{"type":"text","text":"=-2×10","fontSize":9,"dx":14},"encoding":{"x":{"datum":0.375,"type":"quantitative","axis":null},"y":{"datum":0.1076,"type":"quantitative","axis":null}}},
 {"data":{"values":[{}]},"mark":{"type":"text","text":"7","fontSize":6,"dx":41,"dy":-4},"encoding":{"x":{"datum":0.375,"type":"quantitative","axis":null},"y":{"datum":0.1076,"type":"quantitative","axis":null}}}
]},
{"width":128,"height":119,"resolve":{"axis":{"x":"independent","y":"independent"}},"layer":[
 {"data":{"name":"fk"},"mark":{"type":"line","color":"black"},"encoding":{
  "x":{"field":"g","type":"quantitative","scale":{"domain":[0,1],"nice":false},"axis":{"orient":"bottom","title":null,"labels":false,"values":[0,0.04,0.08,0.12,0.16,0.2,0.24,0.28,0.32,0.36,0.4,0.44,0.48,0.52,0.56,0.6,0.64,0.68,0.72,0.76,0.8,0.84,0.88,0.92,0.96,1],"tickSize":{"condition":{"test":"abs(datum.value*5-round(datum.value*5))<0.001","value":-6},"value":-3}}},
  "y":{"field":"v","type":"quantitative","scale":{"domain":[0,0.09],"nice":false,"zero":false},"axis":{"orient":"left","title":null,"values":[0,0.005,0.01,0.015,0.02,0.025,0.03,0.035,0.04,0.045,0.05,0.055,0.06,0.065,0.07,0.075,0.08,0.085,0.09],"labelExpr":"abs(datum.value/0.02-round(datum.value/0.02))<0.001 ? format(datum.value,'~g') : ''","tickSize":{"condition":{"test":"abs(datum.value/0.02-round(datum.value/0.02))<0.001","value":-6},"value":-3}}}}},
 {"data":{"name":"fk"},"mark":{"type":"point","shape":"circle","color":"black"},"encoding":{
  "x":{"field":"g","type":"quantitative","axis":{"orient":"top","title":null,"labels":false,"values":[0,0.04,0.08,0.12,0.16,0.2,0.24,0.28,0.32,0.36,0.4,0.44,0.48,0.52,0.56,0.6,0.64,0.68,0.72,0.76,0.8,0.84,0.88,0.92,0.96,1],"tickSize":{"condition":{"test":"abs(datum.value*5-round(datum.value*5))<0.001","value":-6},"value":-3}}},
  "y":{"field":"v","type":"quantitative","axis":{"orient":"right","title":null,"labels":false,"values":[0,0.005,0.01,0.015,0.02,0.025,0.03,0.035,0.04,0.045,0.05,0.055,0.06,0.065,0.07,0.075,0.08,0.085,0.09],"tickSize":{"condition":{"test":"abs(datum.value/0.02-round(datum.value/0.02))<0.001","value":-6},"value":-3}}}}},
 {"data":{"name":"fr"},"mark":{"type":"line","color":"red","strokeDash":[4,2]},"encoding":{"x":{"field":"g","type":"quantitative","axis":null},"y":{"field":"v","type":"quantitative","axis":null}}},
 {"data":{"name":"fr"},"mark":{"type":"point","shape":"square","color":"red"},"encoding":{"x":{"field":"g","type":"quantitative","axis":null},"y":{"field":"v","type":"quantitative","axis":null}}},
 {"data":{"values":[{}]},"mark":{"type":"text","text":"(f)","fontSize":15,"align":"center"},"encoding":{"x":{"datum":0.875,"type":"quantitative","axis":null},"y":{"datum":0.0794,"type":"quantitative","axis":null}}},
 {"data":{"values":[{}]},"mark":{"type":"text","text":"β=0.8"},"encoding":{"x":{"datum":0.344,"type":"quantitative","axis":null},"y":{"datum":0.0703,"type":"quantitative","axis":null}}},
 {"data":{"values":[{}]},"mark":{"type":"text","text":"γ"},"encoding":{"x":{"datum":0.344,"type":"quantitative","axis":null},"y":{"datum":0.0567,"type":"quantitative","axis":null}}},
 {"data":{"values":[{}]},"mark":{"type":"text","text":"B","fontSize":8,"dx":7,"dy":5},"encoding":{"x":{"datum":0.344,"type":"quantitative","axis":null},"y":{"datum":0.0567,"type":"quantitative","axis":null}}},
 {"data":{"values":[{}]},"mark":{"type":"text","text":"=2.0","dx":12},"encoding":{"x":{"datum":0.344,"type":"quantitative","axis":null},"y":{"datum":0.0567,"type":"quantitative","axis":null}}}
]},
{"width":128,"height":119,"resolve":{"axis":{"x":"independent","y":"independent"}},"layer":[
 {"data":{"name":"ck"},"mark":{"type":"line","color":"black"},"encoding":{
  "x":{"field":"g","type":"quantitative","scale":{"domain":[0,1],"nice":false},"axis":{"orient":"bottom","title":null,"values":[0,0.04,0.08,0.12,0.16,0.2,0.24,0.28,0.32,0.36,0.4,0.44,0.48,0.52,0.56,0.6,0.64,0.68,0.72,0.76,0.8,0.84,0.88,0.92,0.96,1],"labelExpr":"abs(datum.value*5-round(datum.value*5))<0.001 ? format(datum.value,'~g') : ''","tickSize":{"condition":{"test":"abs(datum.value*5-round(datum.value*5))<0.001","value":-6},"value":-3}}},
  "y":{"field":"v","type":"quantitative","scale":{"domain":[0,0.03],"nice":false,"zero":false},"axis":{"orient":"left","title":null,"values":[0,0.0025,0.005,0.0075,0.01,0.0125,0.015,0.0175,0.02,0.0225,0.025,0.0275,0.03],"labelExpr":"abs(datum.value/0.01-round(datum.value/0.01))<0.001 ? format(datum.value,'~g') : ''","tickSize":{"condition":{"test":"abs(datum.value/0.01-round(datum.value/0.01))<0.001","value":-6},"value":-3}}}}},
 {"data":{"name":"ck"},"mark":{"type":"point","shape":"circle","color":"black"},"encoding":{
  "x":{"field":"g","type":"quantitative","axis":{"orient":"top","title":null,"labels":false,"values":[0,0.04,0.08,0.12,0.16,0.2,0.24,0.28,0.32,0.36,0.4,0.44,0.48,0.52,0.56,0.6,0.64,0.68,0.72,0.76,0.8,0.84,0.88,0.92,0.96,1],"tickSize":{"condition":{"test":"abs(datum.value*5-round(datum.value*5))<0.001","value":-6},"value":-3}}},
  "y":{"field":"v","type":"quantitative","axis":{"orient":"right","title":null,"labels":false,"values":[0,0.0025,0.005,0.0075,0.01,0.0125,0.015,0.0175,0.02,0.0225,0.025,0.0275,0.03],"tickSize":{"condition":{"test":"abs(datum.value/0.01-round(datum.value/0.01))<0.001","value":-6},"value":-3}}}}},
 {"data":{"name":"cr"},"mark":{"type":"line","color":"red","strokeDash":[4,2]},"encoding":{"x":{"field":"g","type":"quantitative","axis":null},"y":{"field":"v","type":"quantitative","axis":null}}},
 {"data":{"name":"cr"},"mark":{"type":"point","shape":"square","color":"red"},"encoding":{"x":{"field":"g","type":"quantitative","axis":null},"y":{"field":"v","type":"quantitative","axis":null}}},
 {"data":{"values":[{}]},"mark":{"type":"text","text":"(c)","fontSize":15,"align":"center"},"encoding":{"x":{"datum":0.84,"type":"quantitative","axis":null},"y":{"datum":0.027,"type":"quantitative","axis":null}}},
 {"data":{"values":[{}]},"mark":{"type":"text","text":"β=0.2"},"encoding":{"x":{"datum":0.125,"type":"quantitative","axis":null},"y":{"datum":0.0255,"type":"quantitative","axis":null}}},
 {"data":{"values":[{}]},"mark":{"type":"text","text":"γ"},"encoding":{"x":{"datum":0.125,"type":"quantitative","axis":null},"y":{"datum":0.0214,"type":"quantitative","axis":null}}},
 {"data":{"values":[{}]},"mark":{"type":"text","text":"B","fontSize":8,"dx":7,"dy":5},"encoding":{"x":{"datum":0.125,"type":"quantitative","axis":null},"y":{"datum":0.0214,"type":"quantitative","axis":null}}},
 {"data":{"values":[{}]},"mark":{"type":"text","text":"=0.1","dx":12},"encoding":{"x":{"datum":0.125,"type":"quantitative","axis":null},"y":{"datum":0.0214,"type":"quantitative","axis":null}}},
 {"data":{"values":[{}]},"mark":{"type":"text","text":"P(g","fontSize":28,"angle":270,"align":"right","baseline":"alphabetic"},"encoding":{"x":{"datum":-0.297,"type":"quantitative","axis":null},"y":{"datum":0.01815,"type":"quantitative","axis":null}}},
 {"data":{"values":[{}]},"mark":{"type":"text","text":"B","fontSize":10,"angle":270,"align":"left","baseline":"alphabetic","dy":5},"encoding":{"x":{"datum":-0.297,"type":"quantitative","axis":null},"y":{"datum":0.01815,"type":"quantitative","axis":null}}},
 {"data":{"values":[{}]},"mark":{"type":"text","text":")","fontSize":28,"angle":270,"align":"left","baseline":"alphabetic","dx":7},"encoding":{"x":{"datum":-0.297,"type":"quantitative","axis":null},"y":{"datum":0.01815,"type":"quantitative","axis":null}}}
]},
{"width":128,"height":119,"resolve":{"axis":{"x":"independent","y":"independent"}},"layer":[
 {"data":{"name":"dk"},"mark":{"type":"line","color":"black"},"encoding":{
  "x":{"field":"g","type":"quantitative","scale":{"domain":[0,1],"nice":false},"axis":{"orient":"bottom","title":null,"values":[0,0.04,0.08,0.12,0.16,0.2,0.24,0.28,0.32,0.36,0.4,0.44,0.48,0.52,0.56,0.6,0.64,0.68,0.72,0.76,0.8,0.84,0.88,0.92,0.96,1],"labelExpr":"abs(datum.value*5-round(datum.value*5))<0.001 ? format(datum.value,'~g') : ''","tickSize":{"condition":{"test":"abs(datum.value*5-round(datum.value*5))<0.001","value":-6},"value":-3}}},
  "y":{"field":"v","type":"quantitative","scale":{"domain":[0,0.1],"nice":false,"zero":false},"axis":{"orient":"left","title":null,"values":[0,0.0075,0.015,0.0225,0.03,0.0375,0.045,0.0525,0.06,0.0675,0.075,0.0825,0.09,0.0975],"labelExpr":"abs(datum.value/0.03-round(datum.value/0.03))<0.001 ? format(datum.value,'~g') : ''","tickSize":{"condition":{"test":"abs(datum.value/0.03-round(datum.value/0.03))<0.001","value":-6},"value":-3}}}}},
 {"data":{"name":"dk"},"mark":{"type":"point","shape":"circle","color":"black"},"encoding":{
  "x":{"field":"g","type":"quantitative","axis":{"orient":"top","title":null,"labels":false,"values":[0,0.04,0.08,0.12,0.16,0.2,0.24,0.28,0.32,0.36,0.4,0.44,0.48,0.52,0.56,0.6,0.64,0.68,0.72,0.76,0.8,0.84,0.88,0.92,0.96,1],"tickSize":{"condition":{"test":"abs(datum.value*5-round(datum.value*5))<0.001","value":-6},"value":-3}}},
  "y":{"field":"v","type":"quantitative","axis":{"orient":"right","title":null,"labels":false,"values":[0,0.0075,0.015,0.0225,0.03,0.0375,0.045,0.0525,0.06,0.0675,0.075,0.0825,0.09,0.0975],"tickSize":{"condition":{"test":"abs(datum.value/0.03-round(datum.value/0.03))<0.001","value":-6},"value":-3}}}}},
 {"data":{"name":"dr"},"mark":{"type":"line","color":"red","strokeDash":[4,2]},"encoding":{"x":{"field":"g","type":"quantitative","axis":null},"y":{"field":"v","type":"quantitative","axis":null}}},
 {"data":{"name":"dr"},"mark":{"type":"point","shape":"square","color":"red"},"encoding":{"x":{"field":"g","type":"quantitative","axis":null},"y":{"field":"v","type":"quantitative","axis":null}}},
 {"data":{"values":[{}]},"mark":{"type":"text","text":"(d)","fontSize":15,"align":"center"},"encoding":{"x":{"datum":0.883,"type":"quantitative","axis":null},"y":{"datum":0.0874,"type":"quantitative","axis":null}}},
 {"data":{"values":[{}]},"mark":{"type":"text","text":"β=0.2"},"encoding":{"x":{"datum":0.14,"type":"quantitative","axis":null},"y":{"datum":0.0773,"type":"quantitative","axis":null}}},
 {"data":{"values":[{}]},"mark":{"type":"text","text":"γ"},"encoding":{"x":{"datum":0.14,"type":"quantitative","axis":null},"y":{"datum":0.0622,"type":"quantitative","axis":null}}},
 {"data":{"values":[{}]},"mark":{"type":"text","text":"B","fontSize":8,"dx":7,"dy":5},"encoding":{"x":{"datum":0.14,"type":"quantitative","axis":null},"y":{"datum":0.0622,"type":"quantitative","axis":null}}},
 {"data":{"values":[{}]},"mark":{"type":"text","text":"=2.0","dx":12},"encoding":{"x":{"datum":0.14,"type":"quantitative","axis":null},"y":{"datum":0.0622,"type":"quantitative","axis":null}}}
]},
{"width":128,"height":119,"resolve":{"axis":{"x":"independent","y":"independent"}},"layer":[
 {"data":{"name":"gk"},"mark":{"type":"line","color":"black"},"encoding":{
  "x":{"field":"g","type":"quantitative","scale":{"domain":[0,1],"nice":false},"axis":{"orient":"bottom","title":null,"values":[0,0.04,0.08,0.12,0.16,0.2,0.24,0.28,0.32,0.36,0.4,0.44,0.48,0.52,0.56,0.6,0.64,0.68,0.72,0.76,0.8,0.84,0.88,0.92,0.96,1],"labelExpr":"abs(datum.value*5-round(datum.value*5))<0.001 ? format(datum.value,'~g') : ''","tickSize":{"condition":{"test":"abs(datum.value*5-round(datum.value*5))<0.001","value":-6},"value":-3}}},
  "y":{"field":"v","type":"quantitative","scale":{"domain":[0,0.05],"nice":false,"zero":false},"axis":{"orient":"left","title":null,"values":[0,0.0025,0.005,0.0075,0.01,0.0125,0.015,0.0175,0.02,0.0225,0.025,0.0275,0.03,0.0325,0.035,0.0375,0.04,0.0425,0.045,0.0475,0.05],"labelExpr":"abs(datum.value/0.01-round(datum.value/0.01))<0.001 ? format(datum.value,'~g') : ''","tickSize":{"condition":{"test":"abs(datum.value/0.01-round(datum.value/0.01))<0.001","value":-6},"value":-3}}}}},
 {"data":{"name":"gk"},"mark":{"type":"point","shape":"circle","color":"black"},"encoding":{
  "x":{"field":"g","type":"quantitative","axis":{"orient":"top","title":null,"labels":false,"values":[0,0.04,0.08,0.12,0.16,0.2,0.24,0.28,0.32,0.36,0.4,0.44,0.48,0.52,0.56,0.6,0.64,0.68,0.72,0.76,0.8,0.84,0.88,0.92,0.96,1],"tickSize":{"condition":{"test":"abs(datum.value*5-round(datum.value*5))<0.001","value":-6},"value":-3}}},
  "y":{"field":"v","type":"quantitative","axis":{"orient":"right","title":null,"labels":false,"values":[0,0.0025,0.005,0.0075,0.01,0.0125,0.015,0.0175,0.02,0.0225,0.025,0.0275,0.03,0.0325,0.035,0.0375,0.04,0.0425,0.045,0.0475,0.05],"tickSize":{"condition":{"test":"abs(datum.value/0.01-round(datum.value/0.01))<0.001","value":-6},"value":-3}}}}},
 {"data":{"name":"gr"},"mark":{"type":"line","color":"red","strokeDash":[4,2]},"encoding":{"x":{"field":"g","type":"quantitative","axis":null},"y":{"field":"v","type":"quantitative","axis":null}}},
 {"data":{"name":"gr"},"mark":{"type":"point","shape":"square","color":"red"},"encoding":{"x":{"field":"g","type":"quantitative","axis":null},"y":{"field":"v","type":"quantitative","axis":null}}},
 {"data":{"values":[{}]},"mark":{"type":"text","text":"(g)","fontSize":15,"align":"center"},"encoding":{"x":{"datum":0.875,"type":"quantitative","axis":null},"y":{"datum":0.0437,"type":"quantitative","axis":null}}},
 {"data":{"values":[{}]},"mark":{"type":"text","text":"β=0.8"},"encoding":{"x":{"datum":0.36,"type":"quantitative","axis":null},"y":{"datum":0.0382,"type":"quantitative","axis":null}}},
 {"data":{"values":[{}]},"mark":{"type":"text","text":"γ"},"encoding":{"x":{"datum":0.36,"type":"quantitative","axis":null},"y":{"datum":0.0307,"type":"quantitative","axis":null}}},
 {"data":{"values":[{}]},"mark":{"type":"text","text":"B","fontSize":8,"dx":7,"dy":5},"encoding":{"x":{"datum":0.36,"type":"quantitative","axis":null},"y":{"datum":0.0307,"type":"quantitative","axis":null}}},
 {"data":{"values":[{}]},"mark":{"type":"text","text":"=0.1","dx":12},"encoding":{"x":{"datum":0.36,"type":"quantitative","axis":null},"y":{"datum":0.0307,"type":"quantitative","axis":null}}},
 {"data":{"values":[{}]},"mark":{"type":"text","text":"g","fontSize":28,"align":"center","baseline":"alphabetic"},"encoding":{"x":{"datum":-0.109,"type":"quantitative","axis":null},"y":{"datum":-0.0126,"type":"quantitative","axis":null}}}
]},
{"width":128,"height":119,"resolve":{"axis":{"x":"independent","y":"independent"}},"layer":[
 {"data":{"name":"hk"},"mark":{"type":"line","color":"black"},"encoding":{
  "x":{"field":"g","type":"quantitative","scale":{"domain":[0,1],"nice":false},"axis":{"orient":"bottom","title":null,"values":[0,0.04,0.08,0.12,0.16,0.2,0.24,0.28,0.32,0.36,0.4,0.44,0.48,0.52,0.56,0.6,0.64,0.68,0.72,0.76,0.8,0.84,0.88,0.92,0.96,1],"labelExpr":"abs(datum.value*5-round(datum.value*5))<0.001 ? format(datum.value,'~g') : ''","tickSize":{"condition":{"test":"abs(datum.value*5-round(datum.value*5))<0.001","value":-6},"value":-3}}},
  "y":{"field":"v","type":"quantitative","scale":{"domain":[0.005,0.02],"nice":false,"zero":false},"axis":{"orient":"left","title":null,"labelFontSize":9,"values":[0.005,0.00625,0.0075,0.00875,0.01,0.01125,0.0125,0.01375,0.015,0.01625,0.0175,0.01875,0.02],"labelExpr":"abs(datum.value/0.005-round(datum.value/0.005))<0.001 ? format(datum.value,'~g') : ''","tickSize":{"condition":{"test":"abs(datum.value/0.005-round(datum.value/0.005))<0.001","value":-6},"value":-3}}}}},
 {"data":{"name":"hk"},"mark":{"type":"point","shape":"circle","color":"black"},"encoding":{
  "x":{"field":"g","type":"quantitative","axis":{"orient":"top","title":null,"labels":false,"values":[0,0.04,0.08,0.12,0.16,0.2,0.24,0.28,0.32,0.36,0.4,0.44,0.48,0.52,0.56,0.6,0.64,0.68,0.72,0.76,0.8,0.84,0.88,0.92,0.96,1],"tickSize":{"condition":{"test":"abs(datum.value*5-round(datum.value*5))<0.001","value":-6},"value":-3}}},
  "y":{"field":"v","type":"quantitative","axis":{"orient":"right","title":null,"labels":false,"values":[0.005,0.00625,0.0075,0.00875,0.01,0.01125,0.0125,0.01375,0.015,0.01625,0.0175,0.01875,0.02],"tickSize":{"condition":{"test":"abs(datum.value/0.005-round(datum.value/0.005))<0.001","value":-6},"value":-3}}}}},
 {"data":{"name":"hr"},"mark":{"type":"line","color":"red","strokeDash":[4,2]},"encoding":{"x":{"field":"g","type":"quantitative","axis":null},"y":{"field":"v","type":"quantitative","axis":null}}},
 {"data":{"name":"hr"},"mark":{"type":"point","shape":"square","color":"red"},"encoding":{"x":{"field":"g","type":"quantitative","axis":null},"y":{"field":"v","type":"quantitative","axis":null}}},
 {"data":{"values":[{}]},"mark":{"type":"text","text":"(h)","fontSize":15,"align":"center"},"encoding":{"x":{"datum":0.89,"type":"quantitative","axis":null},"y":{"datum":0.018,"type":"quantitative","axis":null}}},
 {"data":{"values":[{}]},"mark":{"type":"text","text":"β=0.8"},"encoding":{"x":{"datum":0.336,"type":"quantitative","axis":null},"y":{"datum":0.0167,"type":"quantitative","axis":null}}},
 {"data":{"values":[{}]},"mark":{"type":"text","text":"γ"},"encoding":{"x":{"datum":0.336,"type":"quantitative","axis":null},"y":{"datum":0.0146,"type":"quantitative","axis":null}}},
 {"data":{"values":[{}]},"mark":{"type":"text","text":"B","fontSize":8,"dx":7,"dy":5},"encoding":{"x":{"datum":0.336,"type":"quantitative","axis":null},"y":{"datum":0.0146,"type":"quantitative","axis":null}}},
 {"data":{"values":[{}]},"mark":{"type":"text","text":"=2.0","dx":12},"encoding":{"x":{"datum":0.336,"type":"quantitative","axis":null},"y":{"datum":0.0146,"type":"quantitative","axis":null}}}
]}
]
}
